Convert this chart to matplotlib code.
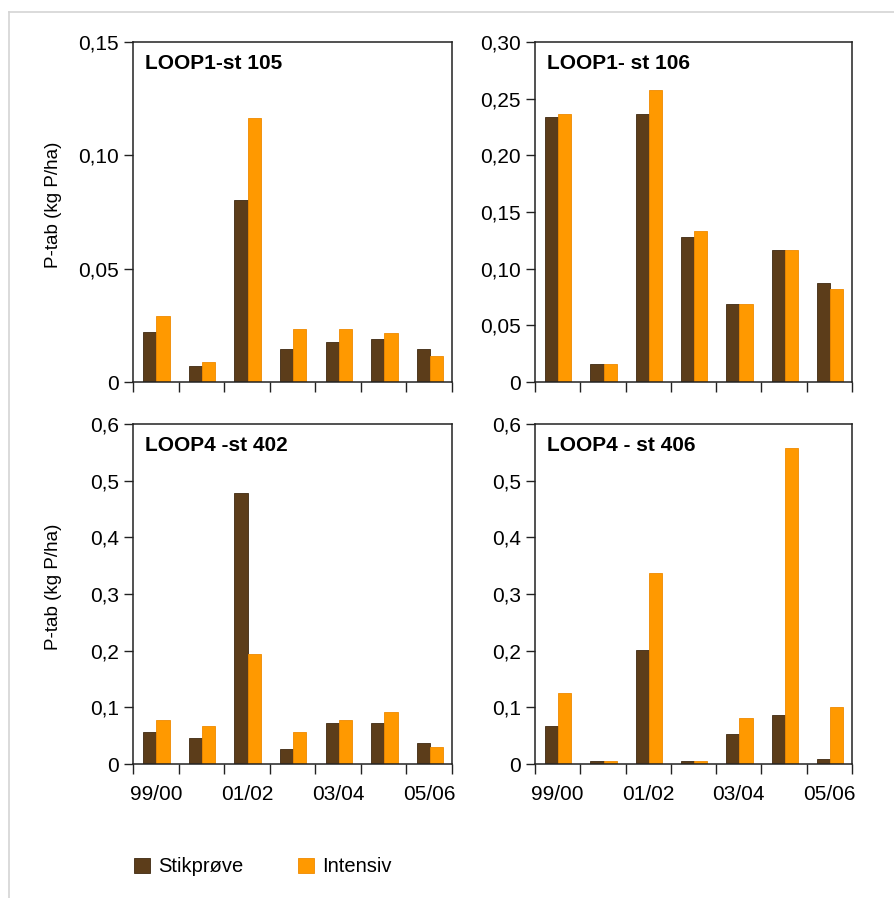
import matplotlib
matplotlib.use("Agg")
import matplotlib.pyplot as plt
from matplotlib.lines import Line2D
import numpy as np

plt.rcParams['font.family'] = ['Liberation Sans', 'DejaVu Sans']

seasons = ["99/00", "00/01", "01/02", "02/03", "03/04", "04/05", "05/06"]
shown_labels = ["99/00", "", "01/02", "", "03/04", "", "05/06"]

titles = ["LOOP1-st 105", "LOOP1- st 106", "LOOP4 -st 402", "LOOP4 - st 406"]

# Stikprøve / Intensiv values per station (kg P/ha)
stik_105 = [0.0219, 0.0072, 0.0802, 0.0146, 0.0175, 0.0190, 0.0146]
int_105 = [0.0293, 0.0088, 0.1166, 0.0233, 0.0233, 0.0218, 0.0116]

stik_106 = [0.2340, 0.0162, 0.2367, 0.1278, 0.0692, 0.1169, 0.0877]
int_106 = [0.2367, 0.0162, 0.2579, 0.1328, 0.0692, 0.1169, 0.0824]

stik_402 = [0.0565, 0.0465, 0.4775, 0.0259, 0.0724, 0.0724, 0.0365]
int_402 = [0.0771, 0.0665, 0.1949, 0.0565, 0.0771, 0.0924, 0.0306]

stik_406 = [0.0677, 0.0053, 0.2020, 0.0053, 0.0530, 0.0866, 0.0094]
int_406 = [0.1248, 0.0053, 0.3362, 0.0053, 0.0818, 0.5576, 0.1013]

yticks_105 = [0, 0.05, 0.10, 0.15]
ylabels_105 = ["0", "0,05", "0,10", "0,15"]
yticks_106 = [0, 0.05, 0.10, 0.15, 0.20, 0.25, 0.30]
ylabels_106 = ["0", "0,05", "0,10", "0,15", "0,20", "0,25", "0,30"]
yticks_400 = [0, 0.1, 0.2, 0.3, 0.4, 0.5, 0.6]
ylabels_400 = ["0", "0,1", "0,2", "0,3", "0,4", "0,5", "0,6"]

panels = [
    (stik_105, int_105, yticks_105, ylabels_105),
    (stik_106, int_106, yticks_106, ylabels_106),
    (stik_402, int_402, yticks_400, ylabels_400),
    (stik_406, int_406, yticks_400, ylabels_400),
]

dark = "#5c3d1a"
dark_edge = "#3e2910"
orange = "#ff9900"
orange_edge = "#ef8a00"

W, H = 895, 898
fig = plt.figure(figsize=(W / 100, H / 100), dpi=100)

# axes boxes in pixels: left, top, right, bottom
boxes = [(133, 42, 452, 382), (535, 42, 852, 382),
         (133, 424, 452, 764), (535, 424, 852, 764)]

x = np.arange(len(seasons)) + 0.5
w = 0.29
handles = None
for k, (stik, inten, yt, yl) in enumerate(panels):
    l, t, r, b = boxes[k]
    ax = fig.add_axes([l / W, 1 - b / H, (r - l) / W, (b - t) / H])
    b1 = ax.bar(x - w / 2 + 0.015, stik, w, color=dark, edgecolor=dark_edge, linewidth=0.6)
    b2 = ax.bar(x + w / 2 + 0.015, inten, w, color=orange, edgecolor=orange_edge, linewidth=0.6)
    if handles is None:
        handles = [b1, b2]
    ax.set_xlim(0, len(seasons))
    ax.set_ylim(yt[0], yt[-1])
    ax.set_yticks(yt)
    ax.set_yticklabels(yl)
    ax.set_xticks(x)
    ax.set_xticks(np.arange(len(seasons) + 1), minor=True)
    if k >= 2:
        ax.set_xticklabels(shown_labels)
    else:
        ax.set_xticklabels([""] * len(seasons))
    ax.tick_params(axis="x", which="major", length=0, pad=15, labelsize=15)
    ax.tick_params(axis="x", which="minor", length=7.5, width=1.0, color="#222222")
    ax.tick_params(axis="y", which="major", length=6.5, width=1.0, pad=3.5,
                   labelsize=15, color="#222222")
    for s in ax.spines.values():
        s.set_linewidth(1.1)
        s.set_color("#222222")
    ax.text(12 / (r - l), 1 - 27 / (b - t), titles[k], transform=ax.transAxes,
            fontsize=15, fontweight="bold", va="baseline", ha="left")
    if k % 2 == 0:
        ax.set_ylabel("P-tab (kg P/ha)", fontsize=13.5)
        ax.yaxis.set_label_coords(-0.222, 0.52)

fig.legend(handles, ["Stikprøve", "Intensiv"], loc="center left",
           bbox_to_anchor=(134 / W, 1 - 867 / H), ncol=2, frameon=False,
           fontsize=14.5, handlelength=0.8, handleheight=0.75,
           handletextpad=0.4, columnspacing=2.7, borderpad=0, borderaxespad=0)

# partial outer frame
fig.add_artist(Line2D([9 / W, 1], [1 - 12 / H, 1 - 12 / H], color="#d4d4d4", linewidth=1.2,
                      transform=fig.transFigure))
fig.add_artist(Line2D([9 / W, 9 / W], [0, 1 - 12 / H], color="#d4d4d4", linewidth=1.2,
                      transform=fig.transFigure))

fig.savefig("out.png", dpi=100)
